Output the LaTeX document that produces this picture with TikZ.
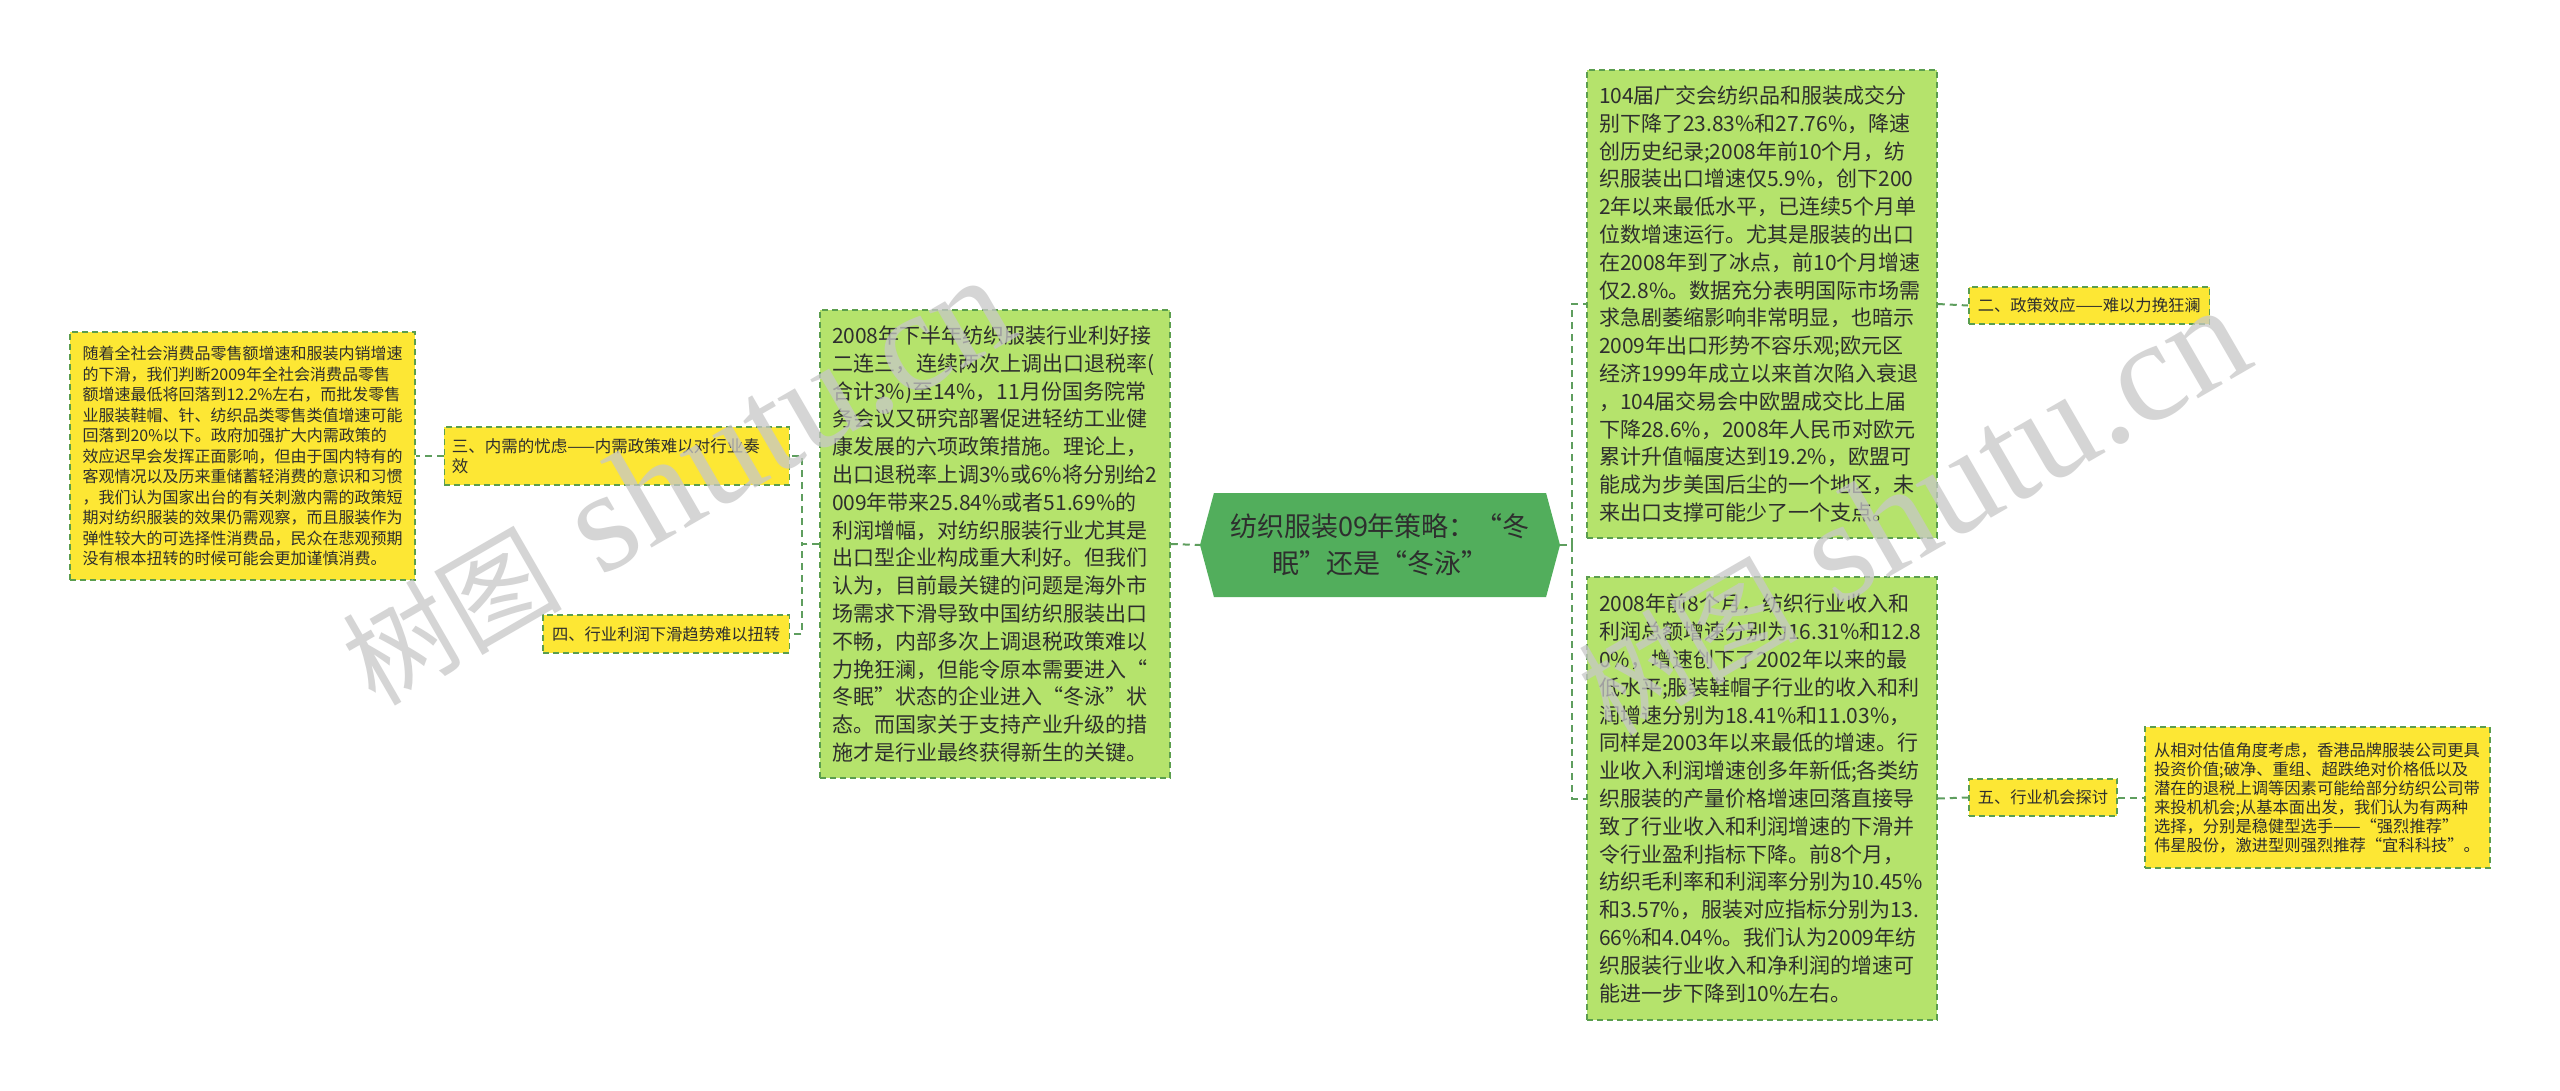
\documentclass[tikz,border=0pt]{standalone}
\usepackage{fontspec}
\setmainfont{Noto Sans CJK SC}
\newfontfamily\wmlatin{Liberation Serif}
\usetikzlibrary{shapes.symbols}
\definecolor{yel}{HTML}{FDE734}
\definecolor{lgreen}{HTML}{B5E36C}
\definecolor{cgreen}{HTML}{52AE5C}
\definecolor{bord}{HTML}{5B9E4E}
\definecolor{connc}{HTML}{5E9E5E}
\definecolor{txt}{HTML}{2E2E2E}
\begin{document}
\begin{tikzpicture}[x=1pt,y=-1pt,
  box/.style={draw=bord, line width=1.5pt, dash pattern=on 6pt off 4pt, text=txt, align=left, inner ysep=0pt},
  ybox/.style={box, fill=yel},
  gbox/.style={box, fill=lgreen, text width=326pt, inner xsep=12pt, font=\fontsize{21}{27.8}\selectfont},
  lbl/.style={ybox, inner xsep=9pt, minimum height=37pt, font=\fontsize{16.3}{20}\selectfont},
  link/.style={draw=connc, line width=2pt, dash pattern=on 7pt off 5pt},
  wmark/.style={text=black!22, text opacity=0.75, inner sep=0pt, rotate=30, anchor=base west}
]
\fill[white] (0,0) rectangle (2560,1090);
\useasboundingbox (0,0) rectangle (2560,1090);

% centre
\node[signal, signal to=east and west, signal pointer angle=150, fill=cgreen, minimum width=360pt, minimum height=104pt, inner sep=0pt, text=txt, align=center, font=\fontsize{27}{37}\selectfont] (C) at (1380,545) {纺织服装09年策略：“冬\\眠”还是“冬泳”};

% left green box
\node[gbox, minimum height=468pt] (G) at (995,544) {2008年下半年纺织服装行业利好接\\二连三，连续两次上调出口退税率(\\合计3\%)至14\%，11月份国务院常\\务会议又研究部署促进轻纺工业健\\康发展的六项政策措施。理论上，\\出口退税率上调3\%或6\%将分别给2\\009年带来25.84\%或者51.69\%的\\利润增幅，对纺织服装行业尤其是\\出口型企业构成重大利好。但我们\\认为，目前最关键的问题是海外市\\场需求下滑导致中国纺织服装出口\\不畅，内部多次上调退税政策难以\\力挽狂澜，但能令原本需要进入“\\冬眠”状态的企业进入“冬泳”状\\态。而国家关于支持产业升级的措\\施才是行业最终获得新生的关键。};

% left labels
\node[ybox, anchor=east, text width=330pt, inner xsep=7.5pt, minimum height=58pt, font=\fontsize{16.5}{20}\selectfont] (L3) at (790,456) {三、内需的忧虑——内需政策难以对行业奏\\效};
\node[lbl, anchor=east, minimum height=38pt] (L4) at (790,634) {四、行业利润下滑趋势难以扭转};

% far left box
\node[ybox, text width=320pt, inner xsep=12.5pt, minimum height=248pt, font=\fontsize{16}{20.5}\selectfont] (LB) at (242.5,456) {随着全社会消费品零售额增速和服装内销增速\\的下滑，我们判断2009年全社会消费品零售\\额增速最低将回落到12.2\%左右，而批发零售\\业服装鞋帽、针、纺织品类零售类值增速可能\\回落到20\%以下。政府加强扩大内需政策的\\效应迟早会发挥正面影响，但由于国内特有的\\客观情况以及历来重储蓄轻消费的意识和习惯\\，我们认为国家出台的有关刺激内需的政策短\\期对纺织服装的效果仍需观察，而且服装作为\\弹性较大的可选择性消费品，民众在悲观预期\\没有根本扭转的时候可能会更加谨慎消费。};

% right boxes
\node[gbox, minimum height=468pt] (T) at (1762,304) {104届广交会纺织品和服装成交分\\别下降了23.83\%和27.76\%，降速\\创历史纪录;2008年前10个月，纺\\织服装出口增速仅5.9\%，创下200\\2年以来最低水平，已连续5个月单\\位数增速运行。尤其是服装的出口\\在2008年到了冰点，前10个月增速\\仅2.8\%。数据充分表明国际市场需\\求急剧萎缩影响非常明显，也暗示\\2009年出口形势不容乐观;欧元区\\经济1999年成立以来首次陷入衰退\\，104届交易会中欧盟成交比上届\\下降28.6\%，2008年人民币对欧元\\累计升值幅度达到19.2\%，欧盟可\\能成为步美国后尘的一个地区，未\\来出口支撑可能少了一个支点。};

\node[gbox, minimum height=443pt] (B) at (1762,798.5) {2008年前8个月，纺织行业收入和\\利润总额增速分别为16.31\%和12.8\\0\%，增速创下了2002年以来的最\\低水平;服装鞋帽子行业的收入和利\\润增速分别为18.41\%和11.03\%，\\同样是2003年以来最低的增速。行\\业收入利润增速创多年新低;各类纺\\织服装的产量价格增速回落直接导\\致了行业收入和利润增速的下滑并\\令行业盈利指标下降。前8个月，\\纺织毛利率和利润率分别为10.45\%\\和3.57\%，服装对应指标分别为13.\\66\%和4.04\%。我们认为2009年纺\\织服装行业收入和净利润的增速可\\能进一步下降到10\%左右。};

\node[lbl, anchor=west] (L2) at (1968,305.5) {二、政策效应——难以力挽狂澜};
\node[lbl, anchor=west] (L5) at (1968,797.5) {五、行业机会探讨};

\node[ybox, text width=327pt, inner xsep=9pt, minimum height=141pt, font=\fontsize{16.3}{19}\selectfont] (FR) at (2317.5,797.5) {从相对估值角度考虑，香港品牌服装公司更具\\投资价值;破净、重组、超跌绝对价格低以及\\潜在的退税上调等因素可能给部分纺织公司带\\来投机机会;从基本面出发，我们认为有两种\\选择，分别是稳健型选手——“强烈推荐”\\伟星股份，激进型则强烈推荐“宜科科技”。};

% connectors
\draw[link] (G.east) -- (C.west);
\draw[link] (G.west) -- ++(-17,0) |- (L3.east);
\draw[link] (G.west) -- ++(-17,0) |- (L4.east);
\draw[link] (L3.west) -- (LB.east);
\draw[link] (C.east) -- ++(12,0) |- (T.west);
\draw[link] (C.east) -- ++(12,0) |- (B.west);
\draw[link] (T.east) -- (L2.west);
\draw[link] (B.east) -- (L5.west);
\draw[link] (L5.east) -- (FR.west);

% watermarks
\node[wmark] (W1) at (375,708) {{\fontsize{110}{110}\selectfont 树图}\hspace{40pt}{\wmlatin\fontsize{145}{145}\selectfont shutu.cn}};
\node[wmark] (W2) at (1611,738) {{\fontsize{110}{110}\selectfont 树图}\hspace{40pt}{\wmlatin\fontsize{145}{145}\selectfont shutu.cn}};
\end{tikzpicture}
\end{document}
